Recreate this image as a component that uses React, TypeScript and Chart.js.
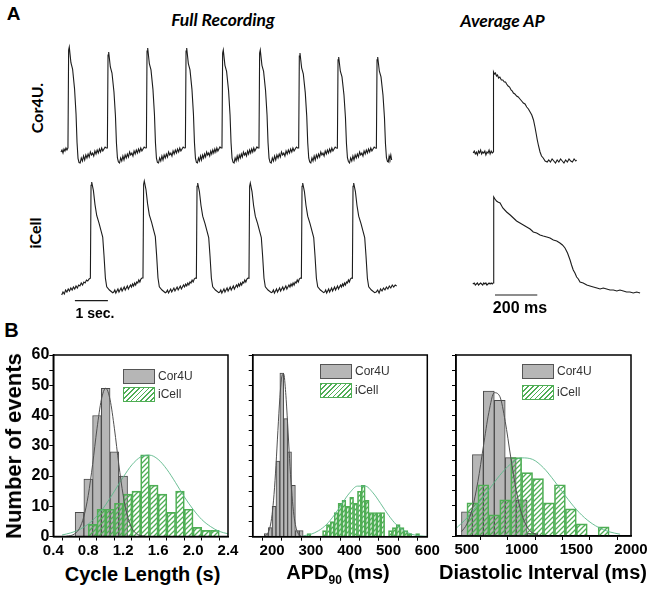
import React, { useEffect, useRef } from "react";
import { Chart, registerables } from "chart.js";
Chart.register(...registerables);

// ================= Panel A : full recordings (time in s, voltage in a.u.) =================
const cor4uOnsets = [0.221, 1.415, 2.597, 3.779, 4.888, 6.009, 7.212, 8.385, 9.567];
const cor4uPeaks = [105, 100, 104, 104, 102, 102, 99, 95, 95];
const cor4uShapeDt = [-0.01, 0.01, 0.03, 0.08, 0.13, 0.19, 0.235, 0.265, 0.295, 0.325];
const cor4uShapeFrac = [0.04, 0.97, 1.0, 0.85, 0.79, 0.6, 0.36, 0.09, -0.06, -0.1];
const cor4uLead = [0, 2, -1, 3, 1, 4, 2];
const cor4uRest = [-11, -6, -9, -4, -8, -3, -6, -2, -5, 0, -3, -1, -4, 1, -2, 2, -1, 3, 0, 4, 1, 3, 5, 4];
const cor4uTail = [-10, -4, -7, -3, -8];
const cor4uSpan = [0, 10.02];

const icellOnsets = [0.879, 2.473, 4.091, 5.685, 7.273, 8.818];
const icellPeaks = [108, 109, 107, 107, 107, 107];
const icellShapeDt = [-0.01, 0.01, 0.03, 0.082, 0.13, 0.182, 0.252, 0.312, 0.364, 0.403, 0.445, 0.485, 0.567, 0.667];
const icellShapeFrac = [0.11, 0.97, 1.0, 0.92, 0.79, 0.69, 0.62, 0.55, 0.49, 0.32, 0.11, 0.03, 0.0, -0.025];
const icellLead = [-5, -2, -4, 0, -2, 1, -1, 2, 0, 3, 1, 4, 2, 5, 4, 7, 5, 8, 7, 10, 9, 11];
const icellRest = [-2, 0, -3, -1, 1, -2, 0, 2, -1, 1, 3, 0, 2, 4, 1, 3, 5, 3, 6, 4, 7, 5, 8, 7, 10, 8, 11, 12];
const icellTail = [-2, 0, -3, 1, -1, 2, 0, 3, 1, 4, 2, 5, 3, 5, 4];
const icellSpan = [0, 10.15];

const secBarT = [0.4, 1.4];
const secBarV = [-10.7, -10.7];

// ================= Panel A : average AP (time in ms, voltage in a.u.) =================
const cor4uAvgT = [-95, -90, -85, -80, -75, -70, -65, -60, -55, -50, -45, -40, -35, -30, -25, -20, -15, -10, -5, -1,
  1, 5, 10, 15, 20, 25, 31, 38, 45, 52, 58, 63, 70, 77, 84, 90, 95, 102, 110, 118, 126, 134, 142, 150, 158, 166, 174, 182, 190, 197,
  203, 208, 214, 221, 228, 236, 245, 255, 262, 270, 278, 286, 294, 302, 310, 318, 326, 334, 342, 350, 358, 366, 374, 382, 390, 394];
const cor4uAvgV = [0, 2, -1, 1, -2, 2, 0, 3, -1, 1, 0, 2, -2, 1, 0, 3, -1, 2, 0, 1,
  81, 79, 80, 77, 78, 75, 76, 73, 73, 71, 71, 69, 67, 66, 63, 62, 60, 59, 57, 56, 54, 52, 50, 49, 46, 44, 41, 38, 33, 26,
  19, 13, 7, 1, -3, -5, -8, -9, -7, -9, -6, -8, -10, -7, -9, -6, -8, -10, -7, -9, -6, -8, -9, -6, -8, -7];

const icellAvgT = [-97, -90, -85, -80, -75, -70, -65, -60, -55, -50, -45, -40, -35, -30, -25, -20, -15, -10, -5, -1,
  2, 8, 15, 22, 32, 45, 63, 80, 95, 110, 126, 142, 158, 174, 189, 205, 221, 236, 253, 268,
  284, 300, 315, 327, 339, 351, 363, 370, 378, 386, 394, 402, 410, 425, 442, 457, 473, 490, 505, 520,
  536, 552, 568, 584, 599, 615, 630, 646, 662, 678, 694];
const icellAvgV = [0, 1, -1, 0, 1, -1, 0, 1, 0, -1, 1, 0, 1, -1, 0, 1, 0, 1, 0, 1,
  87, 85, 83, 82, 81, 76, 72, 69, 66, 63, 61, 59, 57, 55, 52, 51, 49, 48, 47, 46,
  44, 43, 41, 39, 36, 31, 24, 19, 14, 11, 7, 5, 2, 1, -1, -2, -3, -4, -5, -4,
  -5, -6, -6, -7, -6, -7, -8, -8, -9, -8, -9];

const msBarT = [8, 208];
const msBarV = [-11, -11];

// ================= Panel B : histograms =================
const yTicks = [0, 5, 10, 15, 20, 25, 30, 35, 40, 45, 50, 55, 60];
const yTickLabels = ["0", "", "10", "", "20", "", "30", "", "40", "", "50", "", "60"];

// Cycle length (s)
const cycleCor4UBins = [0.7, 0.8, 0.9, 1.0, 1.1, 1.2];
const cycleCor4UCounts = [8, 19, 40, 49, 28, 20];
const cycleICellBins = [0.85, 0.95, 1.05, 1.15, 1.25, 1.35, 1.45, 1.55, 1.65, 1.75, 1.85, 1.95, 2.05, 2.15, 2.25];
const cycleICellCounts = [4, 9, 9, 11, 14, 15, 27, 17, 14, 8, 15, 9, 3, 2, 2];
const cycleCor4UFitX = [0.55, 0.6, 0.65, 0.7, 0.75, 0.8, 0.85, 0.9, 0.95, 1.0, 1.05, 1.1, 1.15, 1.2, 1.25, 1.3, 1.35, 1.4, 1.45];
const cycleCor4UFitY = [0.1, 0.3, 1.0, 2.7, 6.6, 13.6, 23.8, 35.6, 45.2, 49, 45.2, 35.6, 23.8, 13.6, 6.6, 2.7, 1.0, 0.3, 0.1];
const cycleICellFitX = [0.5, 0.6, 0.7, 0.8, 0.9, 1.0, 1.1, 1.2, 1.3, 1.4, 1.5, 1.6, 1.7, 1.8, 1.9, 2.0, 2.1, 2.2, 2.3, 2.4];
const cycleICellFitY = [0.5, 1.2, 2.3, 4.1, 6.8, 10.5, 15.0, 19.6, 23.7, 26.3, 26.9, 25.5, 22.2, 17.8, 13.1, 9.0, 5.6, 3.3, 1.7, 0.9];
const cycleTicks = [0.4, 0.6, 0.8, 1.0, 1.2, 1.4, 1.6, 1.8, 2.0, 2.2, 2.4];
const cycleTickLabels = ["0.4", "", "0.8", "", "1.2", "", "1.6", "", "2.0", "", "2.4"];

// APD90 (ms)
const apdCor4UBins = [185, 195, 205, 215, 225, 235, 245, 255, 265, 275];
const apdCor4UCounts = [1, 3, 10, 25, 54, 39, 28, 17, 2, 2];
const apdICellBins = [295, 305, 315, 325, 335, 345, 355, 365, 375, 385, 395, 405, 415, 425, 435, 445, 455, 465, 475, 485, 495, 505, 515, 525, 535, 545, 555, 565, 575];
const apdICellCounts = [1, 0, 0, 0, 2, 4, 5, 8, 11, 12, 10, 13, 11, 15, 17, 12, 8, 8, 8, 8, 0, 2, 3, 4, 3, 2, 1, 0, 1];
const apdCor4UFitX = [180, 185, 190, 195, 200, 205, 210, 215, 220, 225, 230, 235, 240, 245, 250, 255, 260, 265, 270, 275];
const apdCor4UFitY = [0.2, 0.5, 1.4, 3.4, 7.3, 14.0, 23.6, 35.1, 45.9, 52.8, 53.7, 47.6, 37.4, 25.8, 15.7, 8.4, 4.0, 1.6, 0.6, 0.2];
const apdICellFitX = [280, 300, 320, 340, 360, 380, 400, 420, 440, 460, 480, 500, 520, 540, 560, 580, 600];
const apdICellFitY = [0.3, 0.8, 2.0, 4.0, 7.1, 10.9, 14.5, 16.7, 16.7, 14.5, 10.9, 7.1, 4.0, 2.0, 0.8, 0.3, 0.1];
const apdTicks = [150, 200, 250, 300, 350, 400, 450, 500, 550, 600];
const apdTickLabels = ["", "200", "", "300", "", "400", "", "500", "", "600"];

// Diastolic interval (ms)
const diCor4UBins = [500, 600, 700, 800, 900, 1000, 1100];
const diCor4UCounts = [8, 27, 48, 45, 26, 12, 1];
const diICellBins = [550, 650, 750, 850, 950, 1050, 1150, 1250, 1350, 1450, 1550, 1650, 1750, 1850];
const diICellCounts = [11, 17, 7, 12, 26, 21, 19, 11, 17, 9, 4, 0, 3, 0];
const diCor4UFitX = [450, 500, 550, 600, 650, 700, 750, 800, 850, 900, 950, 1000, 1050, 1100, 1150];
const diCor4UFitY = [1.4, 4.0, 9.2, 18.0, 29.6, 40.9, 47.5, 46.3, 38.0, 26.2, 15.2, 7.4, 3.0, 1.0, 0.3];
const diICellFitX = [400, 500, 600, 700, 800, 900, 1000, 1100, 1200, 1300, 1400, 1500, 1600, 1700, 1800, 1900];
const diICellFitY = [2.5, 6.0, 10.5, 15.3, 20.1, 23.9, 25.9, 25.4, 22.6, 18.2, 13.3, 8.8, 5.3, 2.9, 1.4, 0.6];
const diTicks = [500, 750, 1000, 1250, 1500, 1750, 2000];
const diTickLabels = ["500", "", "1000", "", "1500", "", "2000"];

// ================= helpers =================
type Pt = { x: number; y: number };
const zip = (xs: number[], ys: number[]): Pt[] => xs.map((x, i) => ({ x, y: ys[i] }));

function spread(t0: number, t1: number, vals: number[], out: Pt[]) {
  const n = vals.length;
  for (let i = 0; i < n; i++) out.push({ x: t0 + ((t1 - t0) * (i + 1)) / (n + 1), y: vals[i] });
}

function buildTrain(span: number[], onsets: number[], peaks: number[], dts: number[], fracs: number[],
  lead: number[], rest: number[], tail: number[]): Pt[] {
  const pts: Pt[] = [{ x: span[0], y: lead[0] }];
  spread(span[0], onsets[0] + dts[0], lead.slice(1), pts);
  onsets.forEach((on, i) => {
    dts.forEach((dt, k) => pts.push({ x: on + dt, y: peaks[i] * fracs[k] }));
    const last = on + dts[dts.length - 1];
    if (i < onsets.length - 1) spread(last, onsets[i + 1] + dts[0], rest, pts);
    else {
      spread(last, span[1], tail.slice(0, -1), pts);
      pts.push({ x: span[1], y: tail[tail.length - 1] });
    }
  });
  return pts;
}

const TRACE = "#1c1c1c";

function traceConfig(datasets: any[], xr: number[], yr: number[]): any {
  return {
    type: "line",
    data: {
      datasets: datasets.map((d) => ({
        borderColor: TRACE, borderWidth: 1.1, pointRadius: 0, tension: 0, fill: false, ...d,
      })),
    },
    options: {
      animation: false, responsive: false, maintainAspectRatio: false,
      layout: { padding: 0 },
      plugins: { legend: { display: false }, tooltip: { enabled: false } },
      scales: {
        x: { type: "linear", display: false, min: xr[0], max: xr[1] },
        y: { type: "linear", display: false, min: yr[0], max: yr[1] },
      },
    },
  };
}

const framePlugin = {
  id: "frame",
  afterDraw(chart: any) {
    const { ctx, chartArea: a } = chart;
    ctx.save();
    ctx.strokeStyle = "#000";
    ctx.lineWidth = 1.5;
    ctx.strokeRect(a.left, a.top, a.right - a.left, a.bottom - a.top);
    ctx.restore();
  },
};

const GREEN = "#4fae55";
const GREEN_FIT = "#5cb88a";

function makeHatch(ctx: CanvasRenderingContext2D) {
  const t = document.createElement("canvas");
  t.width = 5; t.height = 5;
  const g = t.getContext("2d")!;
  g.strokeStyle = GREEN; g.lineWidth = 1.3;
  g.beginPath();
  g.moveTo(-1, 6); g.lineTo(6, -1);
  g.moveTo(-1, 1); g.lineTo(1, -1);
  g.moveTo(4, 6); g.lineTo(6, 4);
  g.stroke();
  return ctx.createPattern(t, "repeat");
}

const tickFont = (size: number) => ({ family: "'Liberation Sans', Arial, sans-serif", weight: "bold", size });

function histConfig(p: any, hatch: any): any {
  const axisCommon = {
    grid: { drawOnChartArea: false, drawTicks: true, tickLength: 4, color: "#000", tickColor: "#000", tickWidth: 1 },
    border: { display: true, color: "#000", width: 1.5 },
  };
  return {
    type: "bar",
    data: {
      datasets: [
        { type: "line", label: "Cor4U fit", data: zip(p.gfx, p.gfy), xAxisID: "x", yAxisID: "y", borderColor: "#505050", borderWidth: 1, pointRadius: 0, cubicInterpolationMode: "monotone", order: 0 },
        { type: "line", label: "iCell fit", data: zip(p.ifx, p.ify), xAxisID: "x", yAxisID: "y", borderColor: GREEN_FIT, borderWidth: 0.9, pointRadius: 0, cubicInterpolationMode: "monotone", order: 1 },
        { type: "bar", label: "iCell", data: zip(p.ib, p.ic), xAxisID: "x2", yAxisID: "y", grouped: false, backgroundColor: hatch, borderColor: GREEN, borderWidth: 1, barPercentage: 1, categoryPercentage: 1, order: 2 },
        { type: "bar", label: "Cor4U", data: zip(p.gb, p.gc), xAxisID: "x", yAxisID: "y", grouped: false, backgroundColor: "#b6b6b6", borderColor: "#4a4a4a", borderWidth: 1, barPercentage: 1, categoryPercentage: 1, order: 3 },
      ],
    },
    options: {
      animation: false, responsive: false, maintainAspectRatio: false,
      layout: { padding: { top: p.padTop, right: p.padRight, left: 0, bottom: 0 } },
      plugins: { legend: { display: false }, tooltip: { enabled: false } },
      scales: {
        x: {
          type: "linear", position: "bottom", min: p.xr[0], max: p.xr[1], offset: false,
          afterBuildTicks: (s: any) => { s.ticks = p.xt.map((v: number) => ({ value: v })); },
          afterFit: (s: any) => { s.height = p.xAxisH; },
          ticks: { autoSkip: false, maxRotation: 0, padding: 1, color: "#000", font: tickFont(15), callback: (_v: any, i: number) => p.xl[i] },
          ...axisCommon,
        },
        x2: { type: "linear", display: false, min: p.xr[0], max: p.xr[1], offset: false },
        y: {
          type: "linear", position: "left", min: 0, max: 60,
          afterBuildTicks: (s: any) => { s.ticks = yTicks.map((v) => ({ value: v })); },
          afterFit: (s: any) => { s.width = p.yAxisW; },
          ticks: { autoSkip: false, padding: 0, color: "#000", font: tickFont(16), callback: (_v: any, i: number) => (p.yLabels ? yTickLabels[i] : "") },
          ...axisCommon,
        },
      },
    },
    plugins: [framePlugin],
  };
}

// ================= layout pieces =================
const SANS = "'Liberation Sans', Arial, sans-serif";
const LATO = "Lato, 'Open Sans', sans-serif";

function Txt(props: { x: number; y: number; font: string; rot?: boolean; color?: string; children: any }) {
  return (
    <div style={{
      position: "absolute", left: props.x, top: props.y, whiteSpace: "nowrap", lineHeight: 1,
      font: props.font, color: props.color || "#000",
      transform: `translate(-50%, -50%)${props.rot ? " rotate(-90deg)" : ""}`,
    }}>{props.children}</div>
  );
}

function LegendBox(props: { x: number; y1: number; y2: number }) {
  const txt = { position: "absolute" as const, font: `12px ${SANS}`, color: "#333", lineHeight: "14px", whiteSpace: "nowrap" as const };
  return (
    <>
      <div style={{ position: "absolute", left: props.x, top: props.y1, width: 30, height: 13, background: "#b6b6b6", border: "1px solid #555" }} />
      <div style={{ ...txt, left: props.x + 35, top: props.y1 }}>Cor4U</div>
      <div style={{
        position: "absolute", left: props.x, top: props.y2, width: 30, height: 13, border: `1px solid ${GREEN}`,
        background: `repeating-linear-gradient(135deg, ${GREEN} 0px, ${GREEN} 1.2px, #fff 1.2px, #fff 3.4px)`,
      }} />
      <div style={{ ...txt, left: props.x + 35, top: props.y2 }}>iCell</div>
    </>
  );
}

export default function App() {
  const rCorFull = useRef<HTMLCanvasElement>(null);
  const rICellFull = useRef<HTMLCanvasElement>(null);
  const rCorAvg = useRef<HTMLCanvasElement>(null);
  const rICellAvg = useRef<HTMLCanvasElement>(null);
  const rH1 = useRef<HTMLCanvasElement>(null);
  const rH2 = useRef<HTMLCanvasElement>(null);
  const rH3 = useRef<HTMLCanvasElement>(null);

  useEffect(() => {
    const charts: Chart[] = [];
    const mk = (el: HTMLCanvasElement | null, cfg: any) => { if (el) charts.push(new Chart(el, cfg)); };

    mk(rCorFull.current, traceConfig(
      [{ label: "Cor4U full recording", data: buildTrain(cor4uSpan, cor4uOnsets, cor4uPeaks, cor4uShapeDt, cor4uShapeFrac, cor4uLead, cor4uRest, cor4uTail) }],
      [-0.1515, 10.1515], [-18, 112]));
    mk(rICellFull.current, traceConfig(
      [
        { label: "iCell full recording", data: buildTrain(icellSpan, icellOnsets, icellPeaks, icellShapeDt, icellShapeFrac, icellLead, icellRest, icellTail) },
        { label: "1 sec scale bar", data: zip(secBarT, secBarV), borderWidth: 1.2 },
      ],
      [-0.1727, 10.2818], [-20, 115]));
    mk(rCorAvg.current, traceConfig(
      [{ label: "Cor4U average AP", data: zip(cor4uAvgT, cor4uAvgV) }],
      [-119.6, 424.1], [-17, 93]));
    mk(rICellAvg.current, traceConfig(
      [
        { label: "iCell average AP", data: zip(icellAvgT, icellAvgV) },
        { label: "200 ms scale bar", data: zip(msBarT, msBarV), borderWidth: 1.2 },
      ],
      [-119.6, 717.3], [-26, 99]));

    const hatchFor = (el: HTMLCanvasElement | null) => (el ? makeHatch(el.getContext("2d")!) : GREEN);

    mk(rH1.current, histConfig({
      gb: cycleCor4UBins, gc: cycleCor4UCounts, ib: cycleICellBins, ic: cycleICellCounts,
      gfx: cycleCor4UFitX, gfy: cycleCor4UFitY, ifx: cycleICellFitX, ify: cycleICellFitY,
      xr: [0.4, 2.4], xt: cycleTicks, xl: cycleTickLabels, yLabels: true,
      padTop: 10, padRight: 17, xAxisH: 23.5, yAxisW: 33.3,
    }, hatchFor(rH1.current)));
    mk(rH2.current, histConfig({
      gb: apdCor4UBins, gc: apdCor4UCounts, ib: apdICellBins, ic: apdICellCounts,
      gfx: apdCor4UFitX, gfy: apdCor4UFitY, ifx: apdICellFitX, ify: apdICellFitY,
      xr: [150, 600], xt: apdTicks, xl: apdTickLabels, yLabels: false,
      padTop: 10, padRight: 17.7, xAxisH: 23.3, yAxisW: 12.7,
    }, hatchFor(rH2.current)));
    mk(rH3.current, histConfig({
      gb: diCor4UBins, gc: diCor4UCounts, ib: diICellBins, ic: diICellCounts,
      gfx: diCor4UFitX, gfy: diCor4UFitY, ifx: diICellFitX, ify: diICellFitY,
      xr: [400, 2000], xt: diTicks, xl: diTickLabels, yLabels: false,
      padTop: 10, padRight: 22, xAxisH: 24, yAxisW: 11,
    }, hatchFor(rH3.current)));

    return () => charts.forEach((c) => c.destroy());
  }, []);

  const cv = (left: number, top: number) => ({ position: "absolute" as const, left, top });

  return (
    <div style={{ position: "absolute", left: 0, top: 0, width: 653, height: 597, background: "#fff", overflow: "hidden" }}>
      {/* Panel A */}
      <canvas ref={rCorFull} width={340} height={130} style={cv(56, 40)} />
      <canvas ref={rICellFull} width={345} height={135} style={cv(56, 175)} />
      <canvas ref={rCorAvg} width={115} height={110} style={cv(468, 60)} />
      <canvas ref={rICellAvg} width={177} height={125} style={cv(468, 185)} />

      <Txt x={13.5} y={14} font={`bold 19px ${SANS}`}>A</Txt>
      <Txt x={223} y={19} font={`italic bold 17.5px ${LATO}`}>Full Recording</Txt>
      <Txt x={502.5} y={19.5} font={`italic bold 17.5px ${LATO}`}>Average AP</Txt>
      <Txt x={36} y={108} font={`bold 16px ${LATO}`} rot>Cor4U.</Txt>
      <Txt x={34} y={233} font={`bold 16px ${LATO}`} rot>iCell</Txt>
      <Txt x={95} y={312.5} font={`bold 14px ${SANS}`}>1 sec.</Txt>
      <Txt x={520} y={307.5} font={`bold 16px ${SANS}`}>200 ms</Txt>

      {/* Panel B */}
      <canvas ref={rH1} width={225} height={215} style={cv(20, 345)} />
      <canvas ref={rH2} width={205} height={215} style={cv(240, 345)} />
      <canvas ref={rH3} width={208} height={215} style={cv(445, 345)} />

      <Txt x={11.5} y={329.5} font={`bold 20px ${SANS}`}>B</Txt>
      <Txt x={14} y={446} font={`bold 22px ${SANS}`} rot>Number of events</Txt>
      <Txt x={142.5} y={574} font={`bold 20px ${SANS}`}>Cycle Length (s)</Txt>
      <Txt x={338} y={574} font={`bold 20px ${SANS}`}>APD<sub style={{ fontSize: 12, verticalAlign: "-5px" }}>90</sub> (ms)</Txt>
      <Txt x={543} y={572} font={`bold 20px ${SANS}`}>Diastolic Interval (ms)</Txt>

      <LegendBox x={123} y1={368.5} y2={387} />
      <LegendBox x={320} y1={363.5} y2={382.5} />
      <LegendBox x={522} y1={363.5} y2={385} />
    </div>
  );
}
